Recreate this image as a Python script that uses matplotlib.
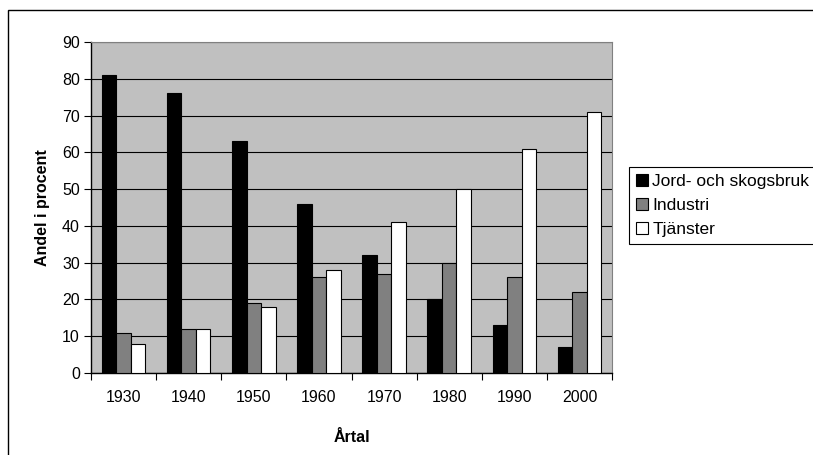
import matplotlib.pyplot as plt
import numpy as np
from matplotlib.patches import Rectangle

plt.rcParams['font.family'] = ['Liberation Sans', 'DejaVu Sans']

years = ['1930', '1940', '1950', '1960', '1970', '1980', '1990', '2000']
jord = [81, 76, 63, 46, 32, 20, 13, 7]
industri = [11, 12, 19, 26, 27, 30, 26, 22]
tjanster = [8, 12, 18, 28, 41, 50, 61, 71]
labels = ['Jord- och skogsbruk', 'Industri', 'Tjänster']
colors = ['#000000', '#808080', '#ffffff']

W, H = 813, 455
fs = 11.5
fig = plt.figure(figsize=(W / 100, H / 100), dpi=100)

# outer chart frame (only left/top visible in the picture)
fig.patches.append(Rectangle((8 / W, -0.1), 1.2, 1 - 10 / H + 0.1,
                             transform=fig.transFigure, fill=False,
                             edgecolor='black', linewidth=1.0))

ax = fig.add_axes([91 / W, (H - 373) / H, 521 / W, 331 / H])
ax.set_facecolor('#c0c0c0')

x = np.arange(len(years))
bw = 1 / 4.5
for i, (vals, c) in enumerate(zip([jord, industri, tjanster], colors)):
    ax.bar(x + (i - 1) * bw, vals, width=bw, color=c, edgecolor='black',
           linewidth=0.8, label=labels[i], zorder=3)

ax.set_xlim(-0.5, len(years) - 0.5)
ax.set_ylim(0, 90)
ax.set_yticks(range(0, 91, 10))
ax.yaxis.grid(True, color='black', linewidth=0.8, zorder=1)
ax.set_axisbelow(True)

ax.set_xticks(x)
ax.set_xticklabels(years, fontsize=fs)
ax.tick_params(axis='x', length=0, pad=12)
ax.set_xticks(np.arange(-0.5, len(years)), minor=True)
ax.tick_params(axis='x', which='minor', length=5, direction='out', width=0.8)
ax.tick_params(axis='y', length=5, direction='out', width=0.8, labelsize=fs, pad=3)

for s in ['top', 'right']:
    ax.spines[s].set_color('#808080')
for s in ['left', 'bottom']:
    ax.spines[s].set_color('black')
    ax.spines[s].set_linewidth(1.0)

fig.text(352 / W, 1 - 437 / H, 'Årtal', fontsize=fs, fontweight='bold',
         ha='center', va='center')
fig.text(42 / W, 1 - 208 / H, 'Andel i procent', fontsize=fs, fontweight='bold',
         ha='center', va='center', rotation=90)

leg = fig.legend(loc='upper left', bbox_to_anchor=(629 / W, 1 - 167 / H),
                 fontsize=12.5, frameon=True, fancybox=False, framealpha=1,
                 edgecolor='black', handlelength=0.7, handleheight=0.7,
                 handletextpad=0.25, borderpad=0.4, labelspacing=0.5,
                 borderaxespad=0)
leg.get_frame().set_linewidth(0.8)

fig.savefig('out.png', dpi=100)
